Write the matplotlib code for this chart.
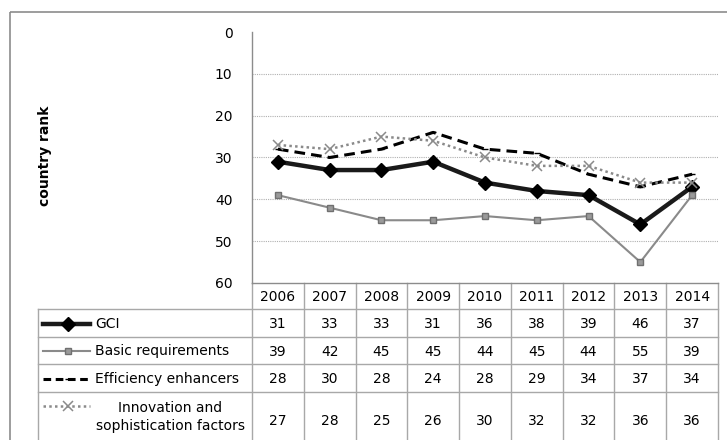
import matplotlib
matplotlib.use("Agg")
import matplotlib.pyplot as plt
from matplotlib.lines import Line2D
from matplotlib.patches import Rectangle

years = ["2006", "2007", "2008", "2009", "2010", "2011", "2012", "2013", "2014"]
gci = [31, 33, 33, 31, 36, 38, 39, 46, 37]
basic = [39, 42, 45, 45, 44, 45, 44, 55, 39]
efficiency = [28, 30, 28, 24, 28, 29, 34, 37, 34]
innovation = [27, 28, 25, 26, 30, 32, 32, 36, 36]
series_names = ["GCI", "Basic requirements", "Efficiency enhancers",
                "Innovation and\nsophistication factors"]
yticks = [0, 10, 20, 30, 40, 50, 60]
ylabel = "country rank"

W, H = 727, 440
plt.rcParams['font.family'] = ['DejaVu Sans']
fig = plt.figure(figsize=(W / 100, H / 100), dpi=100)

# overlay axes in pixel coordinates for frame and table
ov = fig.add_axes([0, 0, 1, 1], zorder=0)
ov.set_xlim(0, W)
ov.set_ylim(H, 0)
ov.axis("off")

# plot axes
px_left, px_right, px_top, px_bot = 252, 718, 32, 283
ax = fig.add_axes([px_left / W, 1 - px_bot / H, (px_right - px_left) / W,
                   (px_bot - px_top) / H], zorder=2)
ax.patch.set_alpha(0)
x = list(range(len(years)))
ax.set_xlim(-0.5, len(years) - 0.5)
ax.set_ylim(yticks[-1], yticks[0])
ax.set_yticks(yticks)
ax.set_xticks([])
ax.tick_params(axis="y", length=0, pad=14, labelsize=10)
for s in ["top", "right", "bottom"]:
    ax.spines[s].set_visible(False)
ax.spines["left"].set_color("#8c8c8c")
ax.spines["left"].set_linewidth(1)
for t in yticks[1:-1]:
    ax.axhline(t, color="#b0b0b0", lw=0.8, ls=(0, (1, 1)), zorder=1)

styles = [
    dict(color="#1a1a1a", lw=3.2, marker="D", ms=7, mfc="black", mec="black", ls="-"),
    dict(color="#8a8a8a", lw=1.5, marker="s", ms=3.8, mfc="#9a9a9a", mec="#707070", ls="-"),
    dict(color="black", lw=2.2, marker="_", ms=4, ls=(0, (3.5, 2))),
    dict(color="#8a8a8a", lw=1.8, marker="x", ms=6.5, mew=1.1, ls=(0, (1, 1.3))),
]
data = [gci, basic, efficiency, innovation]
for vals, st in zip(data, styles):
    ax.plot(x, vals, zorder=3, **st)

# figure frame
ov.add_patch(Rectangle((10, 12), W, H, fill=False, ec="#8c8c8c", lw=1.2))

# ylabel
ov.text(45, 156, ylabel, rotation=90, ha="center", va="center",
        fontsize=10, fontweight="bold")

# table geometry from plot axes scale
def col_px(v):
    return ax.transData.transform((v, 0))[0]

edges = [col_px(i - 0.5) for i in range(len(years) + 1)]
centers = [col_px(i) for i in x]
row_edges = [283, 309, 337, 364, 392, 448]
label_left = 38
lc = "#a8a8a8"

for e in edges:
    ov.plot([e, e], [row_edges[0], row_edges[-1]], color=lc, lw=1, zorder=1)
for yv in row_edges[1:]:
    ov.plot([label_left, edges[-1]], [yv, yv], color=lc, lw=1, zorder=1)
ov.plot([label_left, label_left], [row_edges[1], row_edges[-1]], color=lc, lw=1)
ov.plot([edges[0], edges[-1]], [row_edges[0], row_edges[0]], color="#8c8c8c", lw=1)
for c, yr in zip(centers, years):
    ov.text(c, (row_edges[0] + row_edges[1]) / 2 + 1, yr, ha="center",
            va="center", fontsize=10)

for r, (vals, name, st) in enumerate(zip(data, series_names, styles)):
    y0, y1 = row_edges[r + 1], row_edges[r + 2]
    yc = (y0 + y1) / 2 + 1
    for c, v in zip(centers, vals):
        ov.text(c, yc, str(v), ha="center", va="center", fontsize=10)
    gy = yc if r < 3 else y0 + 14
    st2 = dict(st)
    if r == 2:
        st2["ls"] = (0, (2.5, 1.5))
    ov.add_line(Line2D([43, 68, 90], [gy, gy, gy], markevery=[1], **st2))
    if r < 3:
        ov.text(95, yc, name, ha="left", va="center", fontsize=10)
    else:
        ov.text(170, y0 + 25, name, ha="center", va="center", fontsize=10,
                linespacing=1.45)

fig.savefig("out.png", dpi=100)
